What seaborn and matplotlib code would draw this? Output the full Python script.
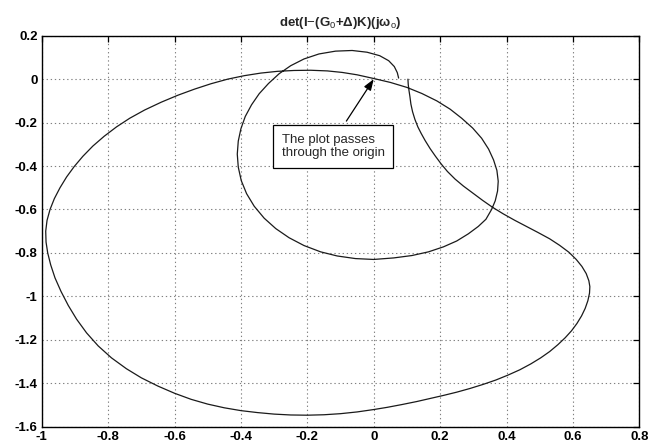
import matplotlib
matplotlib.use("Agg")
import matplotlib.pyplot as plt
import seaborn as sns
import pandas as pd
from matplotlib.ticker import FormatStrFormatter

# ---- data (curve in drawing order) ----
re_vals = [
    0.103, 0.104, 0.106, 0.109, 0.112, 0.117, 0.124, 0.133, 0.143, 0.155,
    0.170, 0.186, 0.203, 0.222, 0.245, 0.270, 0.298, 0.328, 0.358, 0.390,
    0.425, 0.460, 0.495, 0.530, 0.560, 0.588, 0.610, 0.627, 0.640, 0.648,
    0.651, 0.650, 0.645, 0.637, 0.626, 0.612, 0.596, 0.577, 0.555, 0.530,
    0.503, 0.473, 0.440, 0.405, 0.368, 0.330, 0.290, 0.250, 0.210, 0.170,
    0.130, 0.085, 0.040, 0.000, -0.050, -0.100, -0.150, -0.200, -0.250, -0.300,
    -0.350, -0.400, -0.450, -0.500, -0.550, -0.600, -0.650, -0.700, -0.745, -0.790,
    -0.830, -0.865, -0.895, -0.920, -0.942, -0.960, -0.973, -0.982, -0.987, -0.988,
    -0.984, -0.975, -0.962, -0.945, -0.925, -0.902, -0.876, -0.846, -0.812, -0.775,
    -0.735, -0.690, -0.640, -0.590, -0.540, -0.490, -0.440, -0.390, -0.340, -0.290,
    -0.240, -0.190, -0.140, -0.095, -0.050, 0.000, 0.050, 0.100, 0.145, 0.190,
    0.230, 0.265, 0.298, 0.325, 0.346, 0.361, 0.371, 0.375, 0.373, 0.366,
    0.355, 0.338, 0.315, 0.285, 0.250, 0.210, 0.165, 0.115, 0.060, 0.000,
    -0.055, -0.110, -0.160, -0.210, -0.255, -0.295, -0.330, -0.360, -0.383, -0.399,
    -0.408, -0.411, -0.408, -0.400, -0.387, -0.368, -0.345, -0.317, -0.285, -0.250,
    -0.210, -0.165, -0.115, -0.065, -0.020, 0.018, 0.045, 0.062, 0.071, 0.075,
]
im_vals = [
    0.000, -0.025, -0.050, -0.080, -0.115, -0.150, -0.185, -0.220, -0.250, -0.283,
    -0.320, -0.355, -0.390, -0.425, -0.460, -0.492, -0.524, -0.558, -0.590, -0.620,
    -0.650, -0.678, -0.706, -0.735, -0.765, -0.797, -0.830, -0.862, -0.895, -0.928,
    -0.955, -0.985, -1.020, -1.055, -1.090, -1.125, -1.158, -1.190, -1.222, -1.254,
    -1.283, -1.311, -1.338, -1.362, -1.385, -1.405, -1.424, -1.441, -1.456, -1.470,
    -1.484, -1.498, -1.511, -1.521, -1.532, -1.540, -1.545, -1.547, -1.546, -1.542,
    -1.535, -1.526, -1.513, -1.496, -1.474, -1.446, -1.413, -1.375, -1.333, -1.283,
    -1.228, -1.168, -1.105, -1.042, -0.977, -0.915, -0.855, -0.800, -0.750, -0.700,
    -0.650, -0.600, -0.550, -0.500, -0.450, -0.402, -0.355, -0.308, -0.263, -0.220,
    -0.180, -0.142, -0.106, -0.074, -0.046, -0.021, 0.000, 0.016, 0.028, 0.036,
    0.040, 0.041, 0.038, 0.031, 0.020, 0.003, -0.015, -0.038, -0.066, -0.100,
    -0.138, -0.180, -0.225, -0.272, -0.322, -0.372, -0.420, -0.470, -0.515, -0.560,
    -0.600, -0.645, -0.678, -0.712, -0.745, -0.772, -0.795, -0.812, -0.823, -0.830,
    -0.826, -0.814, -0.795, -0.766, -0.730, -0.688, -0.640, -0.585, -0.527, -0.467,
    -0.405, -0.345, -0.285, -0.228, -0.172, -0.118, -0.067, -0.020, 0.025, 0.062,
    0.093, 0.116, 0.129, 0.132, 0.124, 0.108, 0.085, 0.058, 0.030, 0.005,
]
x_ticks = [-1, -0.8, -0.6, -0.4, -0.2, 0, 0.2, 0.4, 0.6, 0.8]
y_ticks = [-1.6, -1.4, -1.2, -1, -0.8, -0.6, -0.4, -0.2, 0, 0.2]
title_text = r"det(I$-$(G$_{0}$+Δ)K)(jω$_{\mathrm{o}}$)"
note_text = "The plot passes\nthrough the origin"

df = pd.DataFrame({"re": re_vals, "im": im_vals})

sns.set_style("white")
plt.rcParams["font.family"] = ["Liberation Sans", "DejaVu Sans"]
plt.rcParams["mathtext.fontset"] = "custom"
plt.rcParams["mathtext.rm"] = "Liberation Sans"
plt.rcParams["mathtext.it"] = "Liberation Sans:italic"
plt.rcParams["mathtext.bf"] = "Liberation Sans:bold"
plt.rcParams["axes.unicode_minus"] = False

fig = plt.figure(figsize=(6.48, 4.47), dpi=100)
ax = fig.add_axes([0.0644, 0.0454, 0.9222, 0.8747])

sns.lineplot(data=df, x="re", y="im", sort=False, estimator=None,
             color="#1a1a1a", linewidth=0.9, ax=ax)

ax.set_xlim(-1, 0.8)
ax.set_ylim(-1.6, 0.2)
ax.set_xticks(x_ticks)
ax.set_yticks(y_ticks)
ax.xaxis.set_major_formatter(FormatStrFormatter("%g"))
ax.yaxis.set_major_formatter(FormatStrFormatter("%g"))
ax.set_xlabel("")
ax.set_ylabel("")

ax.set_axisbelow(True)
ax.xaxis.grid(True, linestyle=(0, (1.2, 2.5)), color="#808080", linewidth=0.8)
ax.yaxis.grid(True, linestyle=(0, (1.2, 2.5)), color="#808080", linewidth=0.8)
for s in ax.spines.values():
    s.set_visible(True)
    s.set_color("black")
    s.set_linewidth(1.0)
ax.tick_params(direction="in", top=True, right=True, length=4, width=0.9,
               labelsize=9.5, pad=3, colors="black")
for lab in ax.get_xticklabels() + ax.get_yticklabels():
    lab.set_fontweight("bold")

ax.set_title(title_text, fontsize=9.5, fontweight="bold", pad=7)

ax.annotate(note_text, xy=(0.0, 0.0), xytext=(-0.1225, -0.309),
            textcoords="data", ha="center", va="center", multialignment="left",
            fontsize=9.5, linespacing=1.15,
            bbox=dict(boxstyle="square,pad=0.65", fc="white", ec="black", lw=0.9),
            arrowprops=dict(arrowstyle="-|>,head_length=0.7,head_width=0.25",
                            color="black", lw=0.9, relpos=(0.55, 1.0),
                            shrinkA=3, shrinkB=0))

fig.savefig("out.png", dpi=100)
